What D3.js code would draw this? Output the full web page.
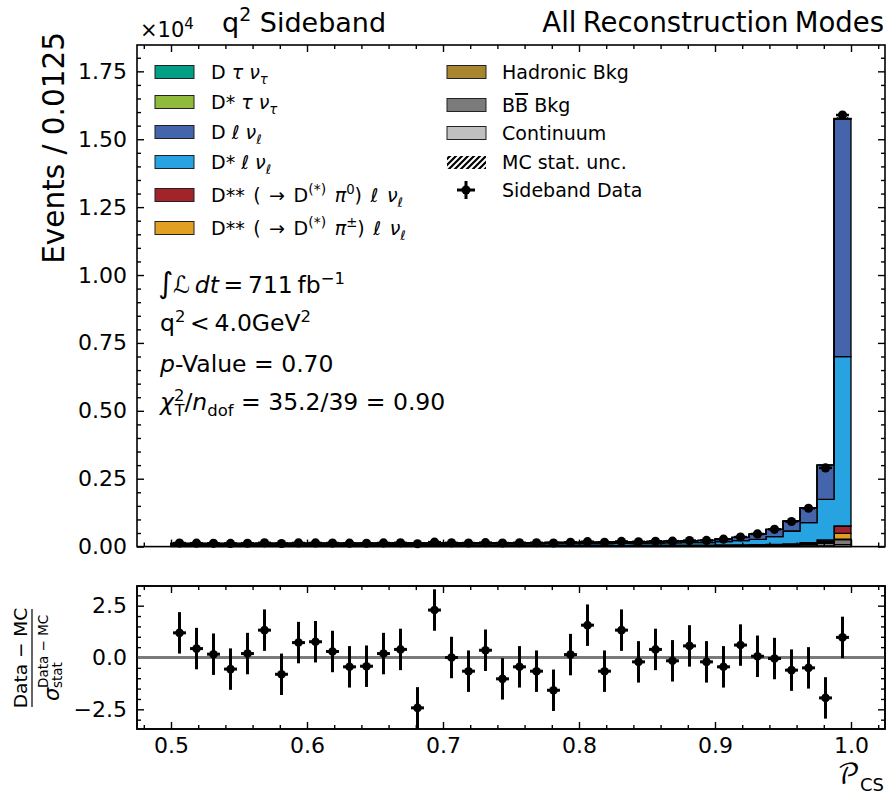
<!DOCTYPE html>
<html><head><meta charset="utf-8">
<script src="https://cdn.jsdelivr.net/npm/d3@7"></script>
<style>
body{margin:0;background:#fff;}
svg text{font-family:"DejaVu Sans",sans-serif;fill:#000;}
</style></head><body>
<svg id="c" width="889" height="797" xmlns="http://www.w3.org/2000/svg"></svg>
<script>
// ---------------- DATA ----------------
const binLo = [0.5000,0.5125,0.5250,0.5375,0.5500,0.5625,0.5750,0.5875,0.6000,0.6125,
               0.6250,0.6375,0.6500,0.6625,0.6750,0.6875,0.7000,0.7125,0.7250,0.7375,
               0.7500,0.7625,0.7750,0.7875,0.8000,0.8125,0.8250,0.8375,0.8500,0.8625,
               0.8750,0.8875,0.9000,0.9125,0.9250,0.9375,0.9500,0.9625,0.9750,0.9875];
const binWidth = 0.0125;

// stacked components, bottom -> top
const continuum = [12,12,11,12,11,11,11,11,10,10,10,10,10,10,9,9,9,9,9,9,9,9,9,9,9,9,9,9,10,10,10,10,10,10,11,12,14,17,25,70];
const bbBkg     = [18,18,18,18,18,18,18,18,18,18,19,19,19,19,19,19,19,20,20,20,20,20,21,21,21,22,22,23,24,25,26,27,28,30,32,36,44,58,95,190];
const hadronic  = [3,3,3,3,3,3,3,3,3,3,3,3,3,3,3,3,3,3,3,3,3,3,3,3,3,3,3,4,4,4,4,4,4,5,5,6,7,9,12,10];
const dssPm     = [5,5,5,5,5,5,5,5,5,5,5,5,5,5,5,5,5,5,5,5,5,6,6,6,6,6,6,7,7,8,8,8,9,10,11,13,18,30,55,220];
const dss0      = [5,5,5,5,5,5,5,5,5,5,5,5,6,6,6,6,6,6,6,6,6,6,6,6,6,7,7,7,7,8,8,8,9,10,11,13,19,32,60,268];
const dstLnu    = [42,43,44,45,45,46,46,48,47,49,50,49,50,52,51,53,54,55,56,57,59,60,61,64,66,68,71,74,79,85,88,89,122,152,199,285,472,734,1494,6234];
const dLnu      = [31,32,31,32,32,34,33,34,35,36,36,36,37,37,38,39,40,40,41,42,43,44,45,46,48,49,52,54,57,61,69,84,96,123,192,268,364,545,1252,8751];
const dstTaunu  = [1,1,1,1,1,1,1,1,1,1,1,1,1,1,1,1,1,1,1,1,1,1,1,1,1,1,1,1,1,1,1,1,1,1,2,2,3,4,6,15];
const dTaunu    = [1,1,1,1,1,1,1,1,1,1,1,1,1,1,1,1,1,1,1,1,1,1,1,1,1,1,1,1,1,1,1,1,1,1,1,2,2,3,5,12];
const mcStatErr = [4,4,4,4,4,4,4,4,4,4,4,4,4,4,4,4,4,4,4,4,4,4,4,4,4,4,4,4,4,4,4,5,5,6,7,8,10,12,18,45];

const dataCounts = [131,125,121,116,123,139,114,134,134,131,125,124,134,139,105,163,138,132,146,132,
                    142,142,133,159,181,157,189,177,195,201,223,229,272,353,465,636,924,1413,2897,15892];
const dataErr    = [11,11,11,11,11,12,11,12,12,11,11,11,12,12,10,13,12,11,12,11,
                    12,12,12,13,13,13,14,13,14,14,15,15,16,19,22,25,30,38,54,126];
const pulls = [1.19,0.43,0.16,-0.56,0.19,1.32,-0.81,0.72,0.76,0.29,-0.45,-0.42,0.19,0.39,-2.43,2.29,0.00,-0.66,0.35,-1.03,
               -0.45,-0.66,-1.58,0.14,1.56,-0.66,1.32,-0.21,0.39,-0.16,0.56,-0.21,-0.45,0.60,0.06,-0.05,-0.61,-0.50,-1.95,0.97];
const pullErr = 1;

const xTickValues = [0.5,0.6,0.7,0.8,0.9,1.0];
const xTickLabels = ["0.5","0.6","0.7","0.8","0.9","1.0"];
const yTickValues = [0,2500,5000,7500,10000,12500,15000,17500];
const yTickLabels = ["0.00","0.25","0.50","0.75","1.00","1.25","1.50","1.75"];
const rTickValues = [-2.5,0,2.5];
const rTickLabels = ["\u22122.5","0.0","2.5"];

// ---------------- STYLE / LAYOUT ----------------
const comps = [
  {name:"continuum", v:continuum, c:"#c0c0c0"},
  {name:"bb",        v:bbBkg,     c:"#7b7b7b"},
  {name:"had",       v:hadronic,  c:"#a9852f"},
  {name:"dssPm",     v:dssPm,     c:"#e39f21"},
  {name:"dss0",      v:dss0,      c:"#a2232a"},
  {name:"dstl",      v:dstLnu,    c:"#27a3e1"},
  {name:"dl",        v:dLnu,      c:"#4465ab"},
  {name:"dsttau",    v:dstTaunu,  c:"#8fba3c"},
  {name:"dtau",      v:dTaunu,    c:"#019f86"}
];
const L=137, Rr=885, T1=45, B1=546.6, T2=586, B2=729;
const TICKFS = 22;

const svg = d3.select("#c");
const x = d3.scaleLinear().domain([0.475,1.025]).range([L,Rr]);
const y = d3.scaleLinear().domain([0,18470]).range([B1,T1]);
const yr = d3.scaleLinear().domain([-3.45,3.45]).range([B2,T2]);

const defs = svg.append("defs");
const pat = defs.append("pattern").attr("id","hatch").attr("patternUnits","userSpaceOnUse").attr("width",5).attr("height",5);
pat.append("path").attr("d","M-1,1 l2,-2 M0,5 l5,-5 M4,6 l2,-2").attr("stroke","#000").attr("stroke-width",1.1);
const patL = defs.append("pattern").attr("id","hatchL").attr("patternUnits","userSpaceOnUse").attr("width",6).attr("height",6);
patL.append("path").attr("d","M-1.5,1.5 l3,-3 M0,6 l6,-6 M4.5,7.5 l3,-3").attr("stroke","#000").attr("stroke-width",2.2);

// ---------------- STACKED HISTOGRAM ----------------
const nb = binLo.length;
let cum = new Array(nb).fill(0);
const gBars = svg.append("g");
const line = d3.line();
comps.forEach(cp=>{
  const lo = cum.slice();
  const hi = cum.map((c,i)=>c+cp.v[i]);
  const pts = [];
  for(let i=0;i<nb;i++){ pts.push([x(binLo[i]),y(hi[i])]); pts.push([x(binLo[i]+binWidth),y(hi[i])]); }
  for(let i=nb-1;i>=0;i--){ pts.push([x(binLo[i]+binWidth),y(lo[i])]); pts.push([x(binLo[i]),y(lo[i])]); }
  gBars.append("path").attr("d",line(pts)+"Z").attr("fill",cp.c).attr("stroke","#000").attr("stroke-width",1.3).attr("stroke-linejoin","miter");
  cum = hi;
});
// MC stat unc hatch
binLo.forEach((b,i)=>{
  gBars.append("rect").attr("x",x(b)).attr("width",x(b+binWidth)-x(b))
    .attr("y",y(cum[i]+mcStatErr[i])).attr("height",y(cum[i]-mcStatErr[i])-y(cum[i]+mcStatErr[i]))
    .attr("fill","url(#hatch)");
});

// ---------------- AXES ----------------
function frame(yScale, top, bottom, yMajor, yLabels, yMinor, xLabels){
  const g = svg.append("g");
  const xMinor = d3.range(0.48,1.0201,0.02).filter(v=>!xTickValues.some(t=>Math.abs(t-v)<1e-6));
  const mk = (axis, tr, vals, size, fmt, pad)=>{
    const a = g.append("g").attr("transform",tr).call(axis.tickValues(vals).tickSize(-size).tickSizeOuter(0).tickPadding(pad||8).tickFormat(fmt||(()=>"")));
    a.select(".domain").remove();
    a.selectAll("line").attr("stroke","#000").attr("stroke-width",1.4);
    a.selectAll("text").attr("font-size",TICKFS).attr("font-family","DejaVu Sans").attr("fill","#000");
    return a;
  };
  mk(d3.axisBottom(x), `translate(0,${bottom})`, xTickValues, 7, xLabels?((d,i)=>xLabels[i]):null, 8);
  mk(d3.axisBottom(x), `translate(0,${bottom})`, xMinor, 4);
  mk(d3.axisTop(x), `translate(0,${top})`, xTickValues, 7);
  mk(d3.axisTop(x), `translate(0,${top})`, xMinor, 4);
  mk(d3.axisLeft(yScale), `translate(${L},0)`, yMajor, 7, (d,i)=>yLabels[i], 10);
  mk(d3.axisLeft(yScale), `translate(${L},0)`, yMinor, 4);
  mk(d3.axisRight(yScale), `translate(${Rr},0)`, yMajor, 7);
  mk(d3.axisRight(yScale), `translate(${Rr},0)`, yMinor, 4);
  g.append("rect").attr("x",L).attr("y",top).attr("width",Rr-L).attr("height",bottom-top)
    .attr("fill","none").attr("stroke","#000").attr("stroke-width",1.6);
  return g;
}
const yMinor1 = d3.range(0,18470,500).filter(v=>v%2500!==0);
frame(y, T1, B1, yTickValues, yTickLabels, yMinor1, null);
const rMinor = d3.range(-3,3.01,0.5).filter(v=>Math.abs(v%2.5)>1e-6);
frame(yr, T2, B2, rTickValues, rTickLabels, rMinor, xTickLabels);

// ---------------- DATA POINTS (main) ----------------
const gD = svg.append("g");
binLo.forEach((b,i)=>{
  const cx = x(b+binWidth/2), cy = y(dataCounts[i]);
  const hw = (x(binWidth)-x(0))*0.38;
  gD.append("line").attr("x1",cx).attr("x2",cx).attr("y1",y(dataCounts[i]-dataErr[i])).attr("y2",y(dataCounts[i]+dataErr[i])).attr("stroke","#000").attr("stroke-width",2.5);
  gD.append("line").attr("x1",cx-hw).attr("x2",cx+hw).attr("y1",cy).attr("y2",cy).attr("stroke","#000").attr("stroke-width",2.5);
  gD.append("circle").attr("cx",cx).attr("cy",cy).attr("r",4.6).attr("fill","#000");
});

// ---------------- RATIO PANEL ----------------
svg.append("line").attr("x1",L).attr("x2",Rr).attr("y1",yr(0)).attr("y2",yr(0)).attr("stroke","#7a7a7a").attr("stroke-width",3);
const gP = svg.append("g");
binLo.forEach((b,i)=>{
  const cx = x(b+binWidth/2), cy = yr(pulls[i]);
  const hw = (x(binWidth)-x(0))*0.38;
  gP.append("line").attr("x1",cx).attr("x2",cx).attr("y1",yr(pulls[i]-pullErr)).attr("y2",yr(pulls[i]+pullErr)).attr("stroke","#000").attr("stroke-width",3);
  gP.append("line").attr("x1",cx-hw).attr("x2",cx+hw).attr("y1",cy).attr("y2",cy).attr("stroke","#000").attr("stroke-width",3);
  gP.append("circle").attr("cx",cx).attr("cy",cy).attr("r",4.3).attr("fill","#000");
});
svg.append("rect").attr("x",L).attr("y",T2).attr("width",Rr-L).attr("height",B2-T2).attr("fill","none").attr("stroke","#000").attr("stroke-width",1.6);

// ---------------- RICH TEXT HELPER ----------------
function rich(parent, xx, yy, segs, size, anchor){
  const t = parent.append("text").attr("x",xx).attr("y",yy).attr("font-size",size);
  if(anchor) t.attr("text-anchor",anchor);
  let cur=0;
  segs.forEach(s=>{
    const fs = s.fs || ((s.sup||s.sub)? size*0.7 : size);
    const sh = s.sup? -0.4*size : s.sub? 0.25*size : 0;
    const ts = t.append("tspan").attr("dy",sh-cur).attr("font-size",fs).text(s.t);
    if(s.dx) ts.attr("dx",s.dx);
    cur = sh;
    if(s.it) ts.attr("font-style","italic");
    if(s.ol) ts.attr("text-decoration","overline");
    if(s.ff) ts.attr("font-family",s.ff);
  });
  return t;
}

// ---------------- TITLES ----------------
rich(svg,140,37,[{t:"\u00d710"},{t:"4",sup:true,fs:15}],21);
rich(svg,222,32,[{t:"q"},{t:"2",sup:true},{t:" Sideband"}],27);
svg.append("text").attr("x",884).attr("y",32).attr("text-anchor","end").attr("font-size",27.5).attr("word-spacing","-2.5px").text("All Reconstruction Modes");

// y label main
svg.append("text").attr("transform","translate(64,32) rotate(-90)").attr("text-anchor","end").attr("font-size",29.5).text("Events / 0.0125");

// ratio y label (fraction)
const gf = svg.append("g").attr("transform","translate(32,658) rotate(-90)");
gf.append("text").attr("x",0).attr("y",-5).attr("text-anchor","middle").attr("font-size",18.5).text("Data \u2212 MC");
gf.append("line").attr("x1",-49).attr("x2",49).attr("y1",0).attr("y2",0).attr("stroke","#000").attr("stroke-width",1.2);
gf.append("text").attr("x",-43).attr("y",27).attr("font-size",21).attr("font-style","italic").text("\u03c3");
gf.append("text").attr("x",-30).attr("y",16).attr("font-size",13.5).text("Data \u2212 MC");
gf.append("text").attr("x",-30).attr("y",30).attr("font-size",13.5).text("stat");

// x label
rich(svg,884,784,[{t:"\ud835\udcab",fs:27,ff:"'DejaVu Math TeX Gyre','DejaVu Serif','DejaVu Sans'"},{t:"CS",sub:true,fs:18}],26,"end");

// ---------------- ANNOTATIONS ----------------
const AFS = 23.5;
rich(svg,158,293,[{t:"\u222b",fs:29},{t:"\u2112",it:true},{t:"\u2009"},{t:"dt",it:true},{t:"\u2009=\u2009711\u2009fb"},{t:"\u22121",sup:true}],AFS);
rich(svg,160,331,[{t:"q"},{t:"2",sup:true},{t:"\u2009<\u20094.0GeV"},{t:"2",sup:true}],AFS);
rich(svg,160,372,[{t:"p",it:true},{t:"-Value = 0.70"}],AFS);
rich(svg,160,410,[{t:"\u03c7",it:true},{t:"2",sup:true},{t:"T",sub:true,dx:-10},{t:"/"},{t:"n",it:true},{t:"dof",sub:true},{t:" = 35.2/39 = 0.90"}],AFS);

// ---------------- LEGEND ----------------
const leg = svg.append("g");
const it=true;
const leg1 = [
  {c:"#019f86", y:72,  s:[{t:"D "},{t:"\u03c4 ",it},{t:"\u03bd",it},{t:"\u03c4",sub:true,it}]},
  {c:"#8fba3c", y:102, s:[{t:"D*"},{t:" \u03c4 ",it},{t:"\u03bd",it},{t:"\u03c4",sub:true,it}]},
  {c:"#4465ab", y:132, s:[{t:"D "},{t:"\u2113 ",it},{t:"\u03bd",it},{t:"\u2113",sub:true,it}]},
  {c:"#27a3e1", y:162, s:[{t:"D*"},{t:" \u2113 ",it},{t:"\u03bd",it},{t:"\u2113",sub:true,it}]},
  {c:"#a2232a", y:195, ws:2.5, s:[{t:"D** ( \u2192 D"},{t:"(*)",sup:true,fs:14},{t:" \u03c0",it},{t:"0",sup:true},{t:") "},{t:"\u2113 ",it},{t:"\u03bd",it},{t:"\u2113",sub:true,it}]},
  {c:"#e39f21", y:228, ws:2.5, s:[{t:"D** ( \u2192 D"},{t:"(*)",sup:true,fs:14},{t:" \u03c0",it},{t:"\u00b1",sup:true},{t:") "},{t:"\u2113 ",it},{t:"\u03bd",it},{t:"\u2113",sub:true,it}]}
];
leg1.forEach(e=>{
  leg.append("rect").attr("x",155).attr("y",e.y-6.5).attr("width",39).attr("height",13).attr("fill",e.c).attr("stroke","#222").attr("stroke-width",1);
  const t = rich(leg,211,e.y+7,e.s,19);
  if(e.ws) t.attr("word-spacing",e.ws+"px");
});
const leg2 = [
  {c:"#a9852f", y:72,  s:[{t:"Hadronic Bkg"}]},
  {c:"#7b7b7b", y:105, s:[{t:"B"},{t:"B",ol:true},{t:" Bkg"}]},
  {c:"#c0c0c0", y:133, s:[{t:"Continuum"}]}
];
leg2.forEach(e=>{
  leg.append("rect").attr("x",447).attr("y",e.y-6.5).attr("width",39).attr("height",13).attr("fill",e.c).attr("stroke","#222").attr("stroke-width",1);
  rich(leg,502,e.y+7,e.s,19);
});
leg.append("rect").attr("x",447).attr("y",156).attr("width",39).attr("height",13).attr("fill","url(#hatchL)");
rich(leg,502,169,[{t:"MC stat. unc."}],19);
leg.append("line").attr("x1",466).attr("x2",466).attr("y1",181).attr("y2",199).attr("stroke","#000").attr("stroke-width",3);
leg.append("line").attr("x1",457).attr("x2",475).attr("y1",190).attr("y2",190).attr("stroke","#000").attr("stroke-width",3);
leg.append("circle").attr("cx",466).attr("cy",190).attr("r",4.5).attr("fill","#000");
rich(leg,502,197,[{t:"Sideband Data"}],19);
</script>
</body></html>
